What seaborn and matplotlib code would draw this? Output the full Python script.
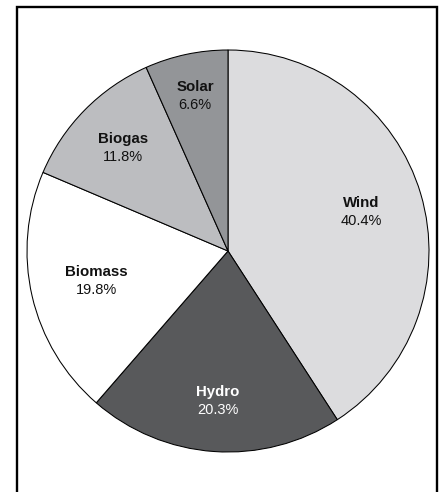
import numpy as np
import matplotlib
matplotlib.use("Agg")
import matplotlib.pyplot as plt
import matplotlib.patches as mpatches
import seaborn as sns

# Data
categories = ["Wind", "Hydro", "Biomass", "Biogas", "Solar"]
shares = [40.4, 20.3, 19.8, 11.8, 6.6]
colors = ["#dcdcde", "#58595b", "#ffffff", "#bcbdc0", "#939598"]
text_colors = ["#111111", "#ffffff", "#111111", "#111111", "#111111"]
label_radius = [0.69, 0.75, 0.67, 0.73, 0.79]

sns.set_theme(style="white")
plt.rcParams["font.family"] = ["Liberation Sans", "DejaVu Sans"]

W, H = 440, 492
fig = plt.figure(figsize=(W / 100, H / 100), dpi=100)
fig.patch.set_facecolor("white")

cx, cy, r = 228, 251, 201
ax = fig.add_axes([(cx - r) / W, (H - cy - r) / H, 2 * r / W, 2 * r / H])

wedges, _ = ax.pie(
    shares,
    colors=colors,
    startangle=90,
    counterclock=False,
    radius=1.0,
    wedgeprops=dict(edgecolor="black", linewidth=0.75),
)
ax.set_xlim(-1, 1)
ax.set_ylim(-1, 1)
ax.set_aspect("auto")
ax.axis("off")

for w, name, val, tc, d in zip(wedges, categories, shares, text_colors, label_radius):
    ang = np.deg2rad((w.theta1 + w.theta2) / 2)
    x, y = d * np.cos(ang), d * np.sin(ang)
    ax.annotate(name, (x, y), xytext=(0, 6.5), textcoords="offset points",
                ha="center", va="center", fontsize=10.8, fontweight="bold", color=tc)
    ax.annotate(f"{val:.1f}%", (x, y), xytext=(0, -6.5), textcoords="offset points",
                ha="center", va="center", fontsize=10.5, color=tc)

# Outer frame (open at the bottom, as cropped)
frame = mpatches.Rectangle((17 / W, -0.05), (437 - 17) / W, (1 - 7 / H) + 0.05,
                           transform=fig.transFigure, fill=False,
                           edgecolor="black", linewidth=1.7, clip_on=False)
fig.patches.append(frame)

fig.savefig("out.png", dpi=100, facecolor="white")
